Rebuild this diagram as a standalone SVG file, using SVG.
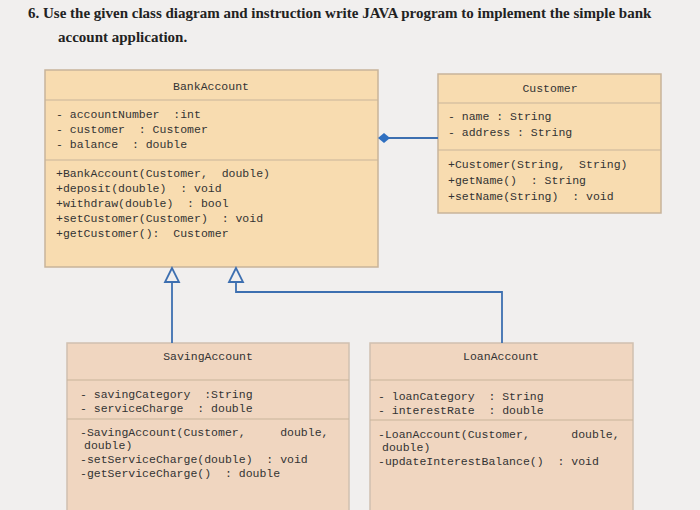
<svg xmlns="http://www.w3.org/2000/svg" width="700" height="510" viewBox="0 0 700 510">
<style>
.bg{fill:#f1efee}
.box{fill:#f8dcb0;stroke:#c8b49a;stroke-width:1.5}
.sub{fill:#f0d6c0;stroke:#d0c0b0;stroke-width:1.5}
.sep{stroke:#c8b49a;stroke-width:1}
.t{font-family:"Liberation Mono",monospace;font-size:11.5px;fill:#333;white-space:pre}
.h{font-family:"Liberation Mono",monospace;font-size:11.5px;fill:#333;text-anchor:middle}
.q{font-family:"Liberation Serif",serif;font-size:15px;fill:#222;font-weight:bold}
.c{stroke:#3d6fb0;stroke-width:1.8;fill:none}
</style>
<rect class="bg" width="700" height="510"/>
<text class="q" x="28" y="18">6.  Use the given class diagram and instruction write JAVA program to implement the simple bank</text>
<text class="q" x="58" y="42">account application.</text>
<g id="BankAccount">
<rect class="box" x="45" y="70" width="333" height="197"/>
<line class="sep" x1="45" y1="100" x2="378" y2="100"/>
<line class="sep" x1="45" y1="160" x2="378" y2="160"/>
<text class="h" x="211" y="90">BankAccount</text>
<text class="t" x="56" y="118">- accountNumber  :int</text>
<text class="t" x="56" y="133">- customer  : Customer</text>
<text class="t" x="56" y="148">- balance  : double</text>
<text class="t" x="56" y="177">+BankAccount(Customer,  double)</text>
<text class="t" x="56" y="192">+deposit(double)  : void</text>
<text class="t" x="56" y="207">+withdraw(double)  : bool</text>
<text class="t" x="56" y="222">+setCustomer(Customer)  : void</text>
<text class="t" x="56" y="237">+getCustomer():  Customer</text>
</g>
<g id="Customer">
<rect class="box" x="438" y="74" width="223" height="139"/>
<line class="sep" x1="438" y1="103" x2="661" y2="103"/>
<line class="sep" x1="438" y1="150" x2="661" y2="150"/>
<text class="h" x="550" y="92">Customer</text>
<text class="t" x="448" y="120">- name : String</text>
<text class="t" x="448" y="136">- address : String</text>
<text class="t" x="448" y="168">+Customer(String,  String)</text>
<text class="t" x="448" y="184">+getName()  : String</text>
<text class="t" x="448" y="200">+setName(String)  : void</text>
</g>
<g id="SavingAccount">
<rect class="sub" x="67" y="343" width="282" height="170"/>
<line class="sep" x1="67" y1="380" x2="349" y2="380"/>
<line class="sep" x1="67" y1="419" x2="349" y2="419"/>
<text class="h" x="208" y="360">SavingAccount</text>
<text class="t" x="80" y="398">- savingCategory  :String</text>
<text class="t" x="80" y="412">- serviceCharge  : double</text>
<text class="t" x="80" y="436">-SavingAccount(Customer,     double,</text>
<text class="t" x="84" y="449">double)</text>
<text class="t" x="80" y="463">-setServiceCharge(double)  : void</text>
<text class="t" x="80" y="477">-getServiceCharge()  : double</text>
</g>
<g id="LoanAccount">
<rect class="sub" x="370" y="343" width="263" height="170"/>
<line class="sep" x1="370" y1="380" x2="633" y2="380"/>
<line class="sep" x1="370" y1="420" x2="633" y2="420"/>
<text class="h" x="501" y="360">LoanAccount</text>
<text class="t" x="378" y="400">- loanCategory  : String</text>
<text class="t" x="378" y="414">- interestRate  : double</text>
<text class="t" x="378" y="438">-LoanAccount(Customer,      double,</text>
<text class="t" x="382" y="451">double)</text>
<text class="t" x="378" y="465">-updateInterestBalance()  : void</text>
</g>
<g id="connectors">
<line class="c" x1="384" y1="138" x2="438" y2="138"/>
<polygon points="378,138 384,133 390,138 384,143" fill="#2f6fc0"/>
<polygon class="c" points="172,268 165,282 179,282"/>
<line class="c" x1="172" y1="282" x2="172" y2="343"/>
<polygon class="c" points="236,268 229,282 243,282"/>
<polyline class="c" points="236,282 236,292 502,292 502,343"/>
</g>
</svg>
